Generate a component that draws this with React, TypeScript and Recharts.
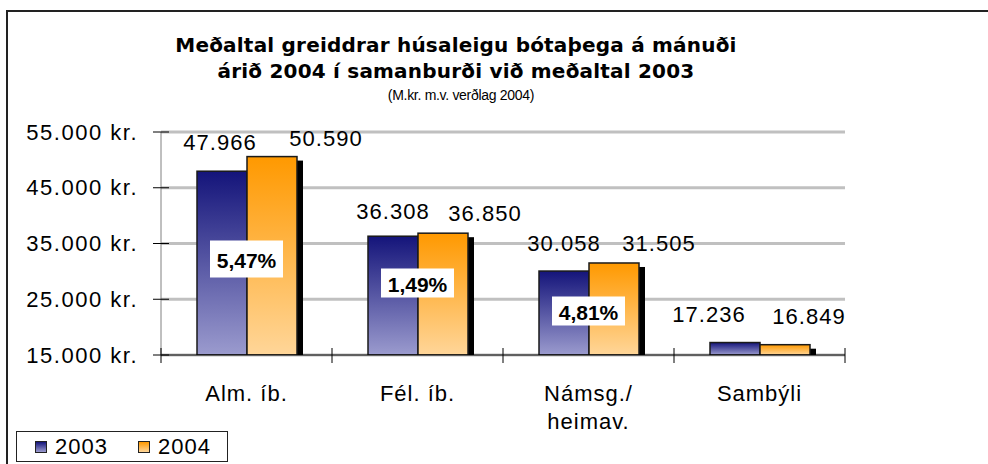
import { Bar, BarChart, CartesianGrid, LabelList, XAxis, YAxis } from 'recharts';

const categories = ['Alm. íb.', 'Fél. íb.', 'Námsg./\nheimav.', 'Sambýli'];
const values2003 = [47966, 36308, 30058, 17236];
const values2004 = [50590, 36850, 31505, 16849];
const changeLabels = ['5,47%', '1,49%', '4,81%', ''];
const yTicks = [15000, 25000, 35000, 45000, 55000];

const data = categories.map((name, i) => ({
  name,
  y2003: values2003[i],
  y2004: values2004[i],
  change: changeLabels[i],
}));

const W = 988;
const H = 464;
const PLOT_LEFT = 161;
const PLOT_RIGHT = 845;
const PLOT_TOP = 132;
const PLOT_BOTTOM = 355;
const BAND = (PLOT_RIGHT - PLOT_LEFT) / categories.length;
const FONT = '"Liberation Sans", Arimo, sans-serif';

const fmt = (v: number) => String(v).replace(/\B(?=(\d{3})+(?!\d))/g, '.');

// hand-placed label nudges, as in the original sheet (dx from bar centre, dy from bar top)
const nudge2003 = [[-2, -29], [0, -25], [0, -28], [-26, -28]];
const nudge2004 = [[54, -18], [42, -20], [45, -19], [24, -28]];
const boxLift = [96, 72, 44];
const boxHeight = [37, 29, 29];

const ShadowBar = (props: any) => {
  const { x, y, width, height, fill } = props;
  if (!height || height <= 0) return null;
  return (
    <g>
      <rect x={x + 6} y={y + 4} width={width} height={Math.max(height - 4, 0)} fill="#000" />
      <rect x={x} y={y} width={width} height={height} fill={fill} stroke="#1a1a1a" strokeWidth={1.5} />
    </g>
  );
};

const valueLabel = (nudges: number[][]) => (props: any) => {
  const { x, y, width, value, index } = props;
  const [dx, dy] = nudges[index] || [0, -24];
  return (
    <text
      x={x + width / 2 + dx}
      y={y + dy}
      textAnchor="middle"
      dominantBaseline="central"
      fontFamily={FONT}
      fontSize={22}
      letterSpacing={1}
      fill="#000"
    >
      {fmt(value)}
    </text>
  );
};

const ChangeBox = (props: any) => {
  const { x, value, index } = props;
  if (!value) return null;
  const cy = PLOT_BOTTOM - boxLift[index];
  const h = boxHeight[index];
  return (
    <g>
      <rect x={x - 37} y={cy - h / 2} width={73} height={h} fill="#fff" />
      <text
        x={x - 0.5}
        y={cy + 1}
        textAnchor="middle"
        dominantBaseline="central"
        fontFamily={FONT}
        fontWeight="bold"
        fontSize={21}
        fill="#000"
      >
        {value}
      </text>
    </g>
  );
};

const YTick = (props: any) => {
  const { y, payload } = props;
  return (
    <g>
      <line x1={PLOT_LEFT - 8} x2={PLOT_LEFT + 8} y1={y} y2={y} stroke="#000" strokeWidth={1} />
      <text
        x={PLOT_LEFT - 23}
        y={y}
        textAnchor="end"
        dominantBaseline="central"
        fontFamily={FONT}
        fontSize={22}
        letterSpacing={1.5}
        fill="#000"
      >
        {fmt(payload.value)} kr.
      </text>
    </g>
  );
};

const XTick = (props: any) => {
  const { x, payload, index } = props;
  const lines = String(payload.value).split('\n');
  const left = x - BAND / 2;
  return (
    <g>
      <line x1={left} x2={left} y1={PLOT_BOTTOM - 7} y2={PLOT_BOTTOM + 8} stroke="#000" />
      {index === categories.length - 1 && (
        <line x1={x + BAND / 2} x2={x + BAND / 2} y1={PLOT_BOTTOM - 7} y2={PLOT_BOTTOM + 8} stroke="#000" />
      )}
      {lines.map((t, i) => (
        <text
          key={i}
          x={x}
          y={393 + i * 28}
          textAnchor="middle"
          dominantBaseline="central"
          fontFamily={FONT}
          fontSize={22}
          letterSpacing={1}
          fill="#000"
        >
          {t}
        </text>
      ))}
    </g>
  );
};

const LegendSwatch = ({ grad }: { grad: string }) => (
  <span
    style={{
      display: 'inline-block',
      width: 10,
      height: 10,
      border: '1px solid #222',
      background: grad,
      marginRight: 8,
    }}
  />
);

export default function App() {
  return (
    <div style={{ position: 'absolute', left: 0, top: 0, width: W, height: H, background: '#fff', overflow: 'hidden' }}>
      <div
        style={{
          position: 'absolute',
          left: 6,
          top: 10,
          width: W,
          height: H,
          borderLeft: '2px solid #222',
          borderTop: '2px solid #222',
        }}
      />
      <div
        style={{
          position: 'absolute',
          left: 156,
          width: 600,
          top: 32,
          textAlign: 'center',
          fontFamily: '"DejaVu Sans", Verdana, sans-serif',
          fontWeight: 'bold',
          fontSize: 20,
          letterSpacing: 0.2,
          lineHeight: '26px',
          color: '#000',
        }}
      >
        Meðaltal greiddrar húsaleigu bótaþega á mánuði
        <br />
        árið 2004 í samanburði við meðaltal 2003
      </div>
      <div
        style={{
          position: 'absolute',
          left: 161,
          width: 600,
          top: 87,
          textAlign: 'center',
          fontFamily: FONT,
          fontSize: 14,
          letterSpacing: -0.3,
          color: '#000',
        }}
      >
        (M.kr. m.v. verðlag 2004)
      </div>
      <BarChart
        width={W}
        height={H}
        data={data}
        margin={{ top: PLOT_TOP, right: W - PLOT_RIGHT, bottom: 0, left: 0 }}
        barCategoryGap={36}
        barGap={0}
        style={{ position: 'absolute', left: 0, top: 0 }}
      >
        <defs>
          <linearGradient id="g2003" x1="0" y1="0" x2="0" y2="1">
            <stop offset="0%" stopColor="#14147a" />
            <stop offset="100%" stopColor="#9b9bce" />
          </linearGradient>
          <linearGradient id="g2004" x1="0" y1="0" x2="0" y2="1">
            <stop offset="0%" stopColor="#ff9900" />
            <stop offset="100%" stopColor="#ffd699" />
          </linearGradient>
        </defs>
        <CartesianGrid vertical={false} stroke="#c0c0c0" strokeWidth={3} />
        <XAxis
          dataKey="name"
          height={H - PLOT_BOTTOM}
          axisLine={{ stroke: '#000', strokeWidth: 1 }}
          tickLine={false}
          tick={<XTick />}
          interval={0}
        />
        <YAxis
          width={PLOT_LEFT}
          domain={[15000, 55000]}
          ticks={yTicks}
          allowDataOverflow
          axisLine={{ stroke: '#808080', strokeWidth: 1 }}
          tickLine={false}
          tick={<YTick />}
        />
        <Bar dataKey="y2003" fill="url(#g2003)" shape={<ShadowBar />} isAnimationActive={false}>
          <LabelList dataKey="y2003" content={valueLabel(nudge2003)} />
        </Bar>
        <Bar dataKey="y2004" fill="url(#g2004)" shape={<ShadowBar />} isAnimationActive={false}>
          <LabelList dataKey="y2004" content={valueLabel(nudge2004)} />
          <LabelList dataKey="change" content={<ChangeBox />} />
        </Bar>
      </BarChart>
      <div
        style={{
          position: 'absolute',
          left: 16,
          top: 431,
          width: 212,
          height: 31,
          border: '1px solid #222',
          background: '#fff',
          display: 'flex',
          alignItems: 'center',
          paddingLeft: 18,
          boxSizing: 'border-box',
          fontFamily: FONT,
          fontSize: 22,
          letterSpacing: 1,
          color: '#000',
        }}
      >
        <LegendSwatch grad="linear-gradient(#14147a, #9b9bce)" />
        <span style={{ marginRight: 30 }}>2003</span>
        <LegendSwatch grad="linear-gradient(#ff9900, #ffd699)" />
        <span>2004</span>
      </div>
    </div>
  );
}
